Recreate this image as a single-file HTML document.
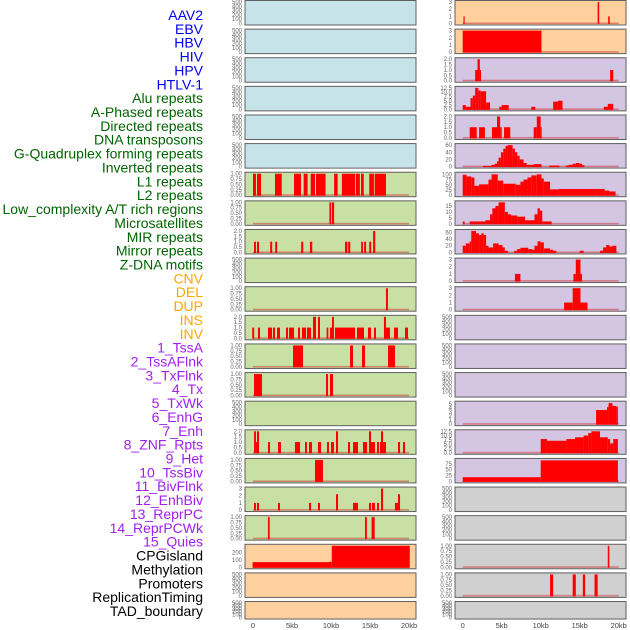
<!DOCTYPE html>
<html><head><meta charset="utf-8"><style>
html,body{margin:0;padding:0;background:#fff;}
svg{display:block;font-family:"Liberation Sans",sans-serif;}
</style></head><body>
<svg id="chart" width="630" height="630" viewBox="0 0 630 630" xmlns="http://www.w3.org/2000/svg"></svg>
<script>
const labels=["AAV2","EBV","HBV","HIV","HPV","HTLV-1","Alu repeats","A-Phased repeats","Directed repeats","DNA transposons","G-Quadruplex forming repeats","Inverted repeats","L1 repeats","L2 repeats","Low_complexity A/T rich regions","Microsatellites","MIR repeats","Mirror repeats","Z-DNA motifs","CNV","DEL","DUP","INS","INV","1_TssA","2_TssAFlnk","3_TxFlnk","4_Tx","5_TxWk","6_EnhG","7_Enh","8_ZNF_Rpts","9_Het","10_TssBiv","11_BivFlnk","12_EnhBiv","13_ReprPC","14_ReprPCWk","15_Quies","CPGisland","Methylation","Promoters","ReplicationTiming","TAD_boundary"];
const labelColors=["#0000ee","#006400","#ffa500","#a020f0","#000000"];
const labelGroups=[6,13,5,15,5];
const xTicks=[0,5,10,15,20];
const xTickLabels=["0","5kb","10kb","15kb","20kb"];
const T500=[0,100,200,300,400,500];
const T1=[0,0.25,0.5,0.75,1.0];
const T2=[0,0.5,1.0,1.5,2.0];
const T3=[0,1,2,3];
const leftBg=["#c7e3ea","#c7e3ea","#c7e3ea","#c7e3ea","#c7e3ea","#c7e3ea","#c8e0a4","#c8e0a4","#c8e0a4","#c8e0a4","#c8e0a4","#c8e0a4","#c8e0a4","#c8e0a4","#c8e0a4","#c8e0a4","#c8e0a4","#c8e0a4","#c8e0a4","#fdd09d","#fdd09d","#fdd09d"];
const rightBg=["#fdd09d","#fdd09d","#d4c5e2","#d4c5e2","#d4c5e2","#d4c5e2","#d4c5e2","#d4c5e2","#d4c5e2","#d4c5e2","#d4c5e2","#d4c5e2","#d4c5e2","#d4c5e2","#d4c5e2","#d4c5e2","#d4c5e2","#d0d0d0","#d0d0d0","#d0d0d0","#d0d0d0","#d0d0d0"];
const leftTicks=[T500,T500,T500,T500,T500,T500,T1,T1,T2,T500,T1,T2,T1,T1,T500,T2,T1,T3,T1,[0,100,200],T500,T500];
const leftMax=[500,500,500,500,500,500,1,1,2,500,1,2,1,1,500,2,1,3,1,295,500,500];
const leftBars=[[],[],[],[],[],[],
[[0,0.38,1],[0.51,1.03,1],[2.82,3.68,1],[5.26,6.15,1],[6.5,7.0,1],[7.4,7.95,1],[8.08,9.3,1],[10.4,10.85,1],[11.4,13.1,1],[13.2,13.7,1],[13.85,14.2,1],[14.9,15.5,1],[15.6,17.05,1]],
[[9.8,10.0,1],[10.1,10.4,1]],
[[0.13,0.38,1],[0.51,0.77,1],[2.2,2.46,1],[2.85,3.1,1],[6.18,6.44,1],[7.3,7.6,1],[11.8,12.1,1],[12.2,12.47,1],[13.87,14.1,1],[14.25,14.5,1],[14.9,15.15,1],[15.4,15.67,2]],
[],
[[17.05,17.3,1]],
[[-0.1,0.15,1],[0.64,0.9,1],[1.92,2.44,1],[2.56,2.82,1],[3.08,3.46,1],[4.23,4.49,1],[4.62,5.26,1],[5.77,6.03,1],[6.28,6.8,1],[6.92,7.44,1],[7.69,8.08,2],[8.33,8.59,2],[9.44,9.66,1],[9.87,10.13,1],[10.13,10.38,2],[10.51,13.08,1],[13.33,14.23,1],[14.74,15.13,1],[15.51,15.77,1],[16.79,17.05,2],[17.05,17.56,1],[18.08,18.59,1],[19.49,19.87,1]],
[[5.13,6.41,1],[12.44,12.82,1],[13.97,14.36,1],[17.31,18.2,1]],
[[0.13,1.15,1],[9.36,9.62,1],[9.87,10.26,1]],
[],
[[0.13,0.38,2],[0.38,0.51,1],[0.51,0.77,2],[1.92,2.18,1],[3.21,3.59,1],[5.38,6.03,1],[6.67,6.92,1],[7.18,7.56,1],[8.33,8.72,1],[9.49,9.74,1],[10.0,10.38,1],[10.64,10.9,2],[12.18,12.44,1],[12.82,13.46,1],[14.1,14.62,1],[14.87,15.13,2],[15.13,15.64,1],[15.9,16.15,1],[16.28,16.54,1],[16.41,16.67,2],[16.67,17.05,1],[18.59,18.85,1],[19.23,19.49,1]],
[[7.95,8.97,1]],
[[0.13,0.38,1],[0.51,0.77,1],[3.21,3.46,1],[7.18,7.44,1],[8.33,8.59,1],[10.64,10.9,2.2],[12.82,13.46,1],[14.87,15.13,1],[15.26,15.64,1],[15.9,16.15,1],[16.41,16.67,3],[18.2,18.59,1],[18.59,18.85,2.2]],
[[1.92,2.14,1],[14.36,14.6,1],[15.2,15.6,1]],
[[-0.05,9.8,70],[9.7,10.1,75],[10.1,20.1,295]],
[],[]];
const rightTicks=[T3,T3,T2,[0,2.5,5,7.5,10,12.5],T2,[0,20,40,60],[0,25,50,75,100],[0,5,10,15],[0,20,40,60],T3,T3,T500,T500,T500,[0,1,2,3,4,5],[0,2.5,5,7.5,10,12.5],[0,25,50,75],T500,T500,T1,T1,T500];
const rightMax=[3,3,2,12.5,2,60,103,18,64,3,3,500,500,500,5.3,12.5,92,500,500,1,1,500];
const rightBars=[
[[0.1,0.25,1],[17.3,17.5,3],[18.65,18.85,1]],
[[0,10.1,3]],
[[1.6,1.9,1],[1.9,2.2,2],[2.2,2.35,1],[18.9,19.3,1]],
[[0,0.4,2.5],[0.4,1.0,1.5],[1.0,1.3,6.5],[1.3,1.6,8],[1.6,2.0,12.5],[2.0,2.3,11],[2.3,3.0,10.5],[3.0,3.5,4],[4.7,5.0,1.5],[5.0,5.9,2.5],[8.8,9.3,1.5],[11.6,12.2,4.5],[12.2,12.8,5],[18.1,18.6,1.5],[18.6,19.3,3.2]],
[[0.9,1.8,1],[2.1,2.85,1],[3.75,4.4,1],[4.4,4.8,2],[4.8,5.0,1],[5.3,6.1,1],[9.1,9.5,1],[9.5,10.0,2],[10.0,10.1,1]],
[[2.6,3.7,2],[3.7,4.1,5],[4.1,4.4,8],[4.4,4.6,15],[4.6,4.9,25],[4.9,5.2,40],[5.2,5.5,50],[5.5,5.8,58],[5.8,6.4,60],[6.4,6.7,50],[6.7,7.0,40],[7.0,7.3,30],[7.3,7.8,20],[7.8,8.2,10],[8.2,9.1,5],[9.1,10.1,7],[11.1,12.4,3],[13.2,13.6,3],[13.6,14.1,5],[14.1,14.5,8],[14.5,15.0,10],[15.0,15.3,8],[15.3,15.6,4]],
[[0,0.5,98],[0.5,1.1,90],[1.1,1.5,85],[1.5,2.1,45],[2.1,3.3,52],[3.3,3.7,75],[3.7,4.5,100],[4.5,5.2,70],[5.2,6.8,55],[6.8,7.4,50],[7.4,7.8,65],[7.8,8.3,75],[8.3,8.8,85],[8.8,9.5,95],[9.5,10.1,100],[10.1,10.4,80],[10.4,11.2,65],[11.2,12.3,28],[12.3,17.2,30],[17.2,18.2,30],[18.2,18.8,22],[18.8,19.6,18]],
[[0,0.25,2],[0.9,2.9,2],[2.9,3.5,3],[3.5,3.8,8],[3.8,4.2,13],[4.2,4.6,15],[4.6,5.4,18],[5.4,5.8,10],[5.8,6.2,8],[6.2,7.0,7],[7.0,8.0,6],[8.0,9.2,3],[9.2,9.6,8],[9.6,9.9,13],[9.9,10.2,11],[10.2,11.4,2]],
[[0,0.4,20],[0.4,0.9,27],[0.9,1.1,33],[1.1,1.7,65],[1.7,2.1,57],[2.1,2.4,52],[2.4,2.7,57],[2.7,3.0,52],[3.0,3.3,20],[3.3,3.9,15],[3.9,4.6,27],[4.6,5.1,22],[5.1,5.4,15],[5.4,5.8,5],[6.6,7.0,5],[7.0,7.4,10],[7.4,8.4,14],[8.4,8.9,10],[8.9,9.2,8],[9.2,9.6,20],[9.6,10.0,33],[10.0,10.4,30],[10.4,11.2,12],[11.2,11.6,8],[11.6,12.0,5],[15.0,15.5,5],[17.6,18.0,5],[18.0,18.4,15],[18.4,18.8,22],[18.8,19.2,18],[19.2,19.7,20]],
[[6.7,7.4,1],[14.2,14.5,1],[14.5,15.1,3],[15.1,15.3,1]],
[[13.0,14.1,1],[14.1,15.1,3],[15.1,16.0,1]],
[],[],[],
[[17.1,18.5,3.5],[18.5,18.7,4.2],[18.7,19.2,5.2],[19.2,19.7,4.5],[19.7,19.9,4.3]],
[[10.0,10.8,8],[10.8,13.3,7],[13.3,14.4,8],[14.4,15.5,9],[15.5,16.1,10],[16.1,16.5,11.5],[16.5,17.6,12.5],[17.6,18.6,9],[18.6,18.9,8],[18.9,19.3,5.5],[19.3,19.9,8]],
[[0,10,18],[10,19.9,90]],
[],[],
[[18.6,18.8,1]],
[[11.2,11.6,1],[14.1,14.5,1],[15.4,15.7,1],[16.9,17.3,1]],
[]];

const svg=document.getElementById('chart');
const NS='http://www.w3.org/2000/svg';
function mk(tag,attrs,parent){const e=document.createElementNS(NS,tag);for(const k in attrs)e.setAttribute(k,attrs[k]);(parent||svg).appendChild(e);return e;}
const fmt=(v,arr)=>{const dec=arr.some(t=>Math.abs(t-Math.round(t))>1e-9&&Math.abs(t*10-Math.round(t*10))>1e-9)?2:(arr.some(t=>Math.abs(t-Math.round(t))>1e-9)?1:0);return v.toFixed(dec);};
const T1dec=2;
function panelTop(i){return 0.5+28.62*i;}
function panelH(i){return i===21?17.5:24.5;}
function drawColumn(side,px0,px1,kb0,bgs,ticks,maxs,bars){
  for(let i=0;i<22;i++){
    const top=panelTop(i),h=panelH(i),bot=top+h;
    const g=mk('g',{});
    
    
    const bg=mk('rect',{x:px0,y:top,width:px1-px0,height:h,fill:bgs[i],stroke:'#5f5f5f','stroke-width':1},g);
    
    
    const ymax=maxs[i];
    const yS=v=>bot-1.5-(v/ymax)*(h-3);
    const xS=k=>kb0+k*7.8;
    const tk=ticks[i];
    const useTwo=(tk===T1);
    tk.forEach(t=>{
      const tx=mk('text',{x:px0-3,y:yS(t)+2,'font-size':6,fill:'#666','text-anchor':'end'},g);
      tx.textContent=useTwo?t.toFixed(2):fmt(t,tk);
      
      
    });
    const bs=bars[i];
    if(bs.length){
      const bl=mk('rect',{x:xS(0),y:yS(0)-1,width:xS(20)-xS(0),height:1.6,fill:'rgba(205,60,60,0.55)'},g);
      
      
    }
    bs.forEach(b=>{
      const x=xS(b[0]),w=Math.max(1,xS(b[1])-xS(b[0]));
      const y=yS(Math.min(b[2],ymax));
      const r=mk('rect',{x:x,y:y,width:w,height:yS(0)-y+0.5,fill:'#ff0000'},g);
      
      
    });
  }
  xTicks.forEach((k,j)=>{
    const tx=mk('text',{x:kb0+k*7.8,y:628,'font-size':7.5,fill:'#444','text-anchor':'middle'});
    tx.textContent=xTickLabels[j];
    
    
  });
}
drawColumn('left',245,416,253,leftBg,leftTicks,leftMax,leftBars);
drawColumn('right',455,626,462.7,rightBg,rightTicks,rightMax,rightBars);
let idx=0;
labelGroups.forEach((n,gi)=>{
  for(let k=0;k<n;k++){
    const t=mk('text',{x:203,y:15+idx*13.86+5,'font-size':14,fill:labelColors[gi],'text-anchor':'end'});
    t.textContent=labels[idx];
    
    
    idx++;
  }
});
</script>
</body></html>
